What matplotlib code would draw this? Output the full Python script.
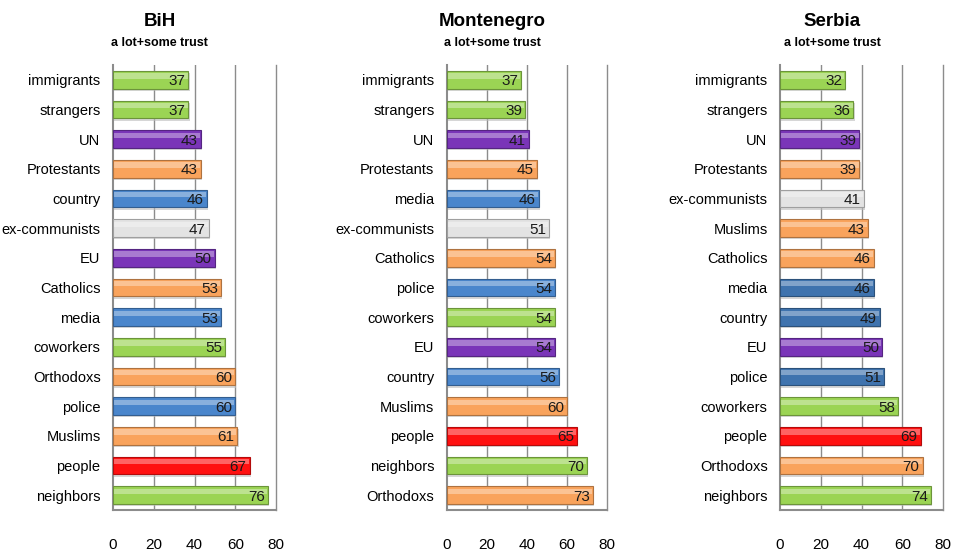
import matplotlib
matplotlib.use("Agg")
import matplotlib.pyplot as plt
from matplotlib import font_manager

# a narrow face is closest to the original; fall back to Liberation Sans
names = {f.name for f in font_manager.fontManager.ttflist}
if 'Liberation Sans Narrow' in names:
    plt.rcParams['font.family'] = ['Liberation Sans Narrow', 'DejaVu Sans']
    FS = 12
else:
    plt.rcParams['font.family'] = ['Liberation Sans', 'DejaVu Sans']
    FS = 10.5

# colour keys per category group
GREEN = '#9BD454'
PURPLE = '#7A35B8'
ORANGE = '#F9A35C'
BLUE = '#4A86CC'
GRAY = '#E3E3E3'
RED = '#FF1010'
DBLUE = '#3F73AE'

bih_labels = ['immigrants', 'strangers', 'UN', 'Protestants', 'country', 'ex-communists', 'EU',
              'Catholics', 'media', 'coworkers', 'Orthodoxs', 'police', 'Muslims', 'people', 'neighbors']
bih_values = [37, 37, 43, 43, 46, 47, 50, 53, 53, 55, 60, 60, 61, 67, 76]
bih_colors = [GREEN, GREEN, PURPLE, ORANGE, BLUE, GRAY, PURPLE, ORANGE, BLUE, GREEN, ORANGE, BLUE,
              ORANGE, RED, GREEN]

mne_labels = ['immigrants', 'strangers', 'UN', 'Protestants', 'media', 'ex-communists', 'Catholics',
              'police', 'coworkers', 'EU', 'country', 'Muslims', 'people', 'neighbors', 'Orthodoxs']
mne_values = [37, 39, 41, 45, 46, 51, 54, 54, 54, 54, 56, 60, 65, 70, 73]
mne_colors = [GREEN, GREEN, PURPLE, ORANGE, BLUE, GRAY, ORANGE, BLUE, GREEN, PURPLE, BLUE, ORANGE,
              RED, GREEN, ORANGE]

srb_labels = ['immigrants', 'strangers', 'UN', 'Protestants', 'ex-communists', 'Muslims', 'Catholics',
              'media', 'country', 'EU', 'police', 'coworkers', 'people', 'Orthodoxs', 'neighbors']
srb_values = [32, 36, 39, 39, 41, 43, 46, 46, 49, 50, 51, 58, 69, 70, 74]
srb_colors = [GREEN, GREEN, PURPLE, ORANGE, GRAY, ORANGE, ORANGE, DBLUE, DBLUE, PURPLE,
              DBLUE, GREEN, RED, ORANGE, GREEN]

x_ticks = [0, 20, 40, 60, 80]


def darker(c, f=0.7):
    r, g, b = matplotlib.colors.to_rgb(c)
    return (r * f, g * f, b * f)


def panel(ax, labels, values, colors):
    ypos = list(range(len(labels)))
    # soft shadow
    ax.barh([y + 0.08 for y in ypos], values, height=0.6, left=0.6, color='#BBBBBB',
            alpha=0.6, zorder=2)
    ax.barh(ypos, values, height=0.6, color=colors,
            edgecolor=[darker(c) for c in colors], linewidth=0.8, zorder=3)
    # glossy highlight on the upper half
    ax.barh([y - 0.13 for y in ypos], [v - 0.8 for v in values], height=0.18, left=0.4,
            color='white', alpha=0.35, linewidth=0, zorder=4)
    for y, v in zip(ypos, values):
        ax.text(v - 1.5, y + 0.05, str(v), ha='right', va='center', fontsize=FS + 0.5,
                color='#1a1a1a', zorder=5)
    ax.set_xlim(0, 80)
    ax.set_ylim(len(labels) - 0.5, -0.5)
    ax.set_yticks(ypos)
    ax.set_yticklabels(labels, fontsize=FS)
    ax.set_xticks(x_ticks)
    ax.set_xticklabels([str(t) for t in x_ticks], fontsize=FS + 0.5)
    ax.tick_params(axis='both', length=0)
    ax.tick_params(axis='x', pad=20)
    ax.tick_params(axis='y', pad=9)
    for t in x_ticks[1:-1]:
        ax.axvline(t, color='#8C8C8C', linewidth=1.0, zorder=1)
    ax.spines['top'].set_visible(False)
    for side in ['left', 'bottom', 'right']:
        ax.spines[side].set_color('#8C8C8C')
    ax.spines['left'].set_linewidth(1.5)
    ax.spines['bottom'].set_linewidth(1.5)
    ax.spines['right'].set_linewidth(1.0)


fig = plt.figure(figsize=(9.61, 5.55), dpi=100)

panels = [
    ('BiH', 0.1176, 0.1696, 0.166, bih_labels, bih_values, bih_colors),
    ('Montenegro', 0.4651, 0.1665, 0.512, mne_labels, mne_values, mne_colors),
    ('Serbia', 0.8117, 0.1696, 0.866, srb_labels, srb_values, srb_colors),
]

for title, left, width, cx, labels, values, colors in panels:
    ax = fig.add_axes([left, 0.081, width, 0.802])
    panel(ax, labels, values, colors)
    fig.text(cx, 0.962, title, ha='center', va='center', fontsize=FS + 3, fontweight='bold')
    fig.text(cx, 0.922, 'a lot+some trust', ha='center', va='center', fontsize=FS - 1.5,
             fontweight='bold')

fig.savefig('out.png', dpi=100)
